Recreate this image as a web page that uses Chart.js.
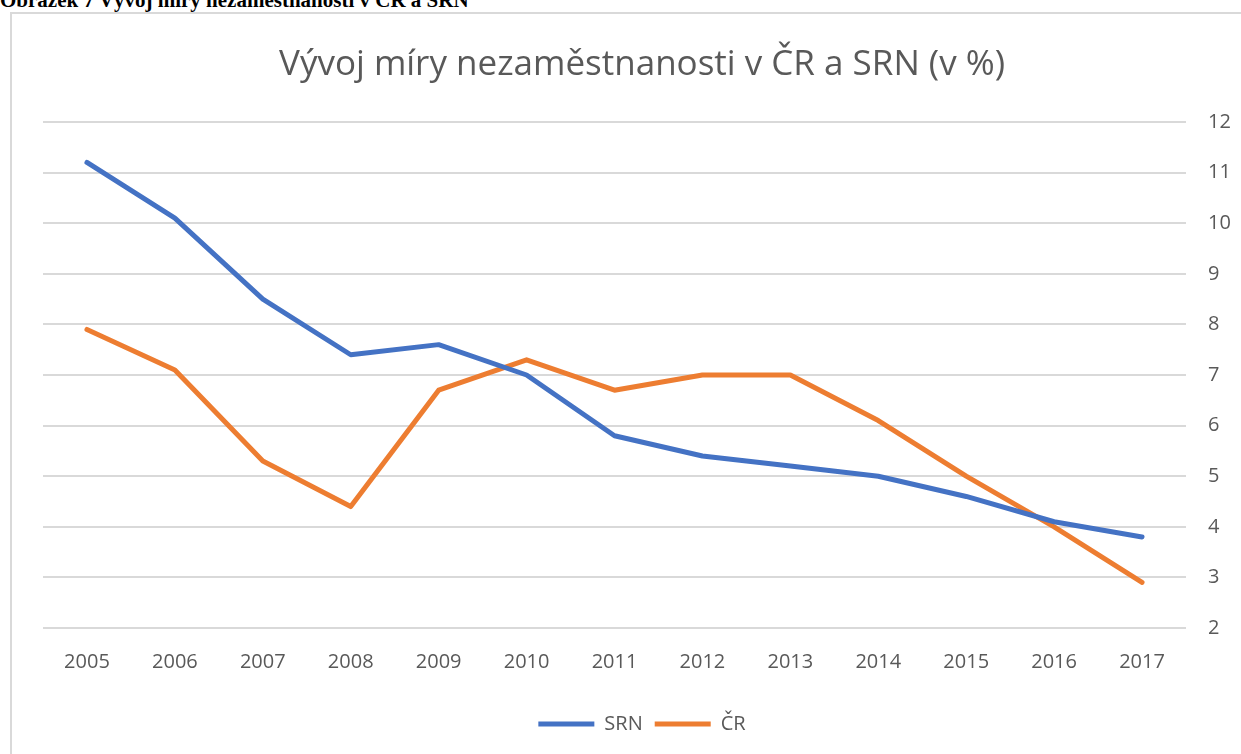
<!DOCTYPE html>
<html>
<head>
<meta charset="utf-8">
<script src="https://cdn.jsdelivr.net/npm/chart.js@4.4.0/dist/chart.umd.min.js"></script>
<style>
  html, body { margin: 0; padding: 0; background: #fff; width: 1241px; height: 754px; overflow: hidden; }
  #caption { position: absolute; left: 0; top: -12px; font: bold 21px "Liberation Serif", "Times New Roman", serif; color: #000; white-space: nowrap; }
  #frame { position: absolute; left: 10px; top: 12px; width: 1240px; height: 760px; border: 2px solid #d9d9d9; box-sizing: border-box; }
  #wrap { position: absolute; left: 0; top: 0; width: 1241px; height: 754px; }
</style>
</head>
<body>
<div id="caption">Obrázek 7 Vývoj míry nezaměstnanosti v ČR a SRN</div>
<div id="frame"></div>
<div id="wrap"><canvas id="c" width="1241" height="754"></canvas></div>
<script>
const titleText = "Vývoj míry nezaměstnanosti v ČR a SRN (v %)";
const years = ["2005","2006","2007","2008","2009","2010","2011","2012","2013","2014","2015","2016","2017"];
const srn = [11.2, 10.1, 8.5, 7.4, 7.6, 7.0, 5.8, 5.4, 5.2, 5.0, 4.6, 4.1, 3.8];
const cr  = [7.9, 7.1, 5.3, 4.4, 6.7, 7.3, 6.7, 7.0, 7.0, 6.1, 5.0, 4.0, 2.9];
const yMin = 2, yMax = 12, yStep = 1;

const txt = '#595959';
const fontFam = '"Open Sans", "Liberation Sans", sans-serif';

new Chart(document.getElementById('c'), {
  type: 'line',
  data: {
    labels: years,
    datasets: [
      { label: 'SRN', data: srn, borderColor: '#4472C4', backgroundColor: '#4472C4', borderWidth: 5, pointRadius: 0, borderCapStyle: 'round', borderJoinStyle: 'round', tension: 0 },
      { label: 'ČR', data: cr, borderColor: '#ED7D31', backgroundColor: '#ED7D31', borderWidth: 5, pointRadius: 0, borderCapStyle: 'round', borderJoinStyle: 'round', tension: 0 }
    ]
  },
  options: {
    responsive: false,
    animation: false,
    events: [],
    layout: { padding: { left: 43, right: 0, top: 0, bottom: 10 } },
    plugins: {
      title: { display: true, text: titleText, color: txt, font: { family: fontFam, size: 35, weight: 'normal' }, padding: { top: 44, bottom: 36 } },
      legend: {
        position: 'bottom',
        labels: { color: txt, font: { family: fontFam, size: 20 }, usePointStyle: true, pointStyle: 'line', pointStyleWidth: 56, boxHeight: 20, padding: 12 }
      },
      tooltip: { enabled: false }
    },
    scales: {
      x: {
        offset: true,
        grid: { display: false, drawTicks: false },
        border: { display: false },
        ticks: { color: txt, font: { family: fontFam, size: 20 }, padding: 22, maxRotation: 0, autoSkip: false },
        afterFit: s => { s.height = 74; }
      },
      y: {
        position: 'right',
        min: yMin, max: yMax,
        grid: { color: '#d9d9d9', lineWidth: 2, drawTicks: false },
        border: { display: false },
        ticks: { stepSize: yStep, color: txt, font: { family: fontFam, size: 20 }, padding: 22 },
        afterFit: s => { s.width = 55; }
      }
    }
  }
});
</script>
</body>
</html>
